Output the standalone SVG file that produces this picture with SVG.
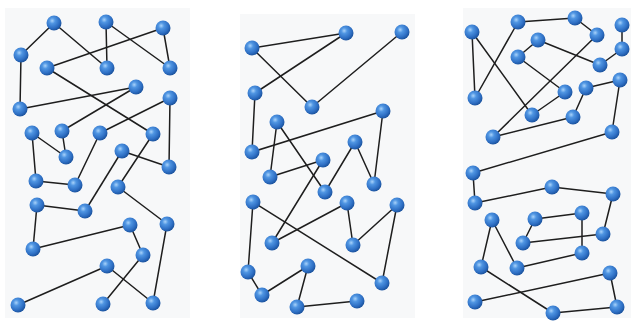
<svg xmlns="http://www.w3.org/2000/svg" width="631" height="322" viewBox="0 0 631 322">
<defs>
<radialGradient id="ball" cx="38%" cy="35%" r="65%">
<stop offset="0" stop-color="#a8d2fa"/>
<stop offset="0.3" stop-color="#4f95e2"/>
<stop offset="0.75" stop-color="#2e6fc4"/>
<stop offset="1" stop-color="#1d55a0"/>
</radialGradient>
</defs>
<style>
.bg{fill:#f7f8f9}
.e line{stroke:#1e1e1e;stroke-width:1.5;stroke-linecap:round}
.n circle{fill:url(#ball)}
</style>
<rect width="631" height="322" fill="#ffffff"/>
<rect class="bg" x="5" y="8" width="185" height="310"/>
<rect class="bg" x="240" y="14" width="175" height="304"/>
<rect class="bg" x="463" y="8" width="168" height="310"/>
<g id="connectors" class="e">
<line x1="54" y1="23" x2="21" y2="55"/>
<line x1="54" y1="23" x2="107" y2="68"/>
<line x1="106" y1="22" x2="107" y2="68"/>
<line x1="106" y1="22" x2="170" y2="68"/>
<line x1="163" y1="28" x2="170" y2="68"/>
<line x1="163" y1="28" x2="47" y2="68"/>
<line x1="21" y1="55" x2="20" y2="109"/>
<line x1="20" y1="109" x2="136" y2="87"/>
<line x1="47" y1="68" x2="153" y2="134"/>
<line x1="136" y1="87" x2="62" y2="131"/>
<line x1="170" y1="98" x2="100" y2="133"/>
<line x1="170" y1="98" x2="169" y2="167"/>
<line x1="32" y1="133" x2="66" y2="157"/>
<line x1="62" y1="131" x2="66" y2="157"/>
<line x1="32" y1="133" x2="36" y2="181"/>
<line x1="100" y1="133" x2="75" y2="185"/>
<line x1="122" y1="151" x2="169" y2="167"/>
<line x1="153" y1="134" x2="118" y2="187"/>
<line x1="122" y1="151" x2="85" y2="211"/>
<line x1="36" y1="181" x2="75" y2="185"/>
<line x1="37" y1="205" x2="85" y2="211"/>
<line x1="37" y1="205" x2="33" y2="249"/>
<line x1="33" y1="249" x2="130" y2="225"/>
<line x1="130" y1="225" x2="143" y2="255"/>
<line x1="118" y1="187" x2="167" y2="224"/>
<line x1="167" y1="224" x2="153" y2="303"/>
<line x1="143" y1="255" x2="103" y2="304"/>
<line x1="107" y1="266" x2="153" y2="303"/>
<line x1="107" y1="266" x2="18" y2="305"/>

<line x1="252" y1="48" x2="346" y2="33"/>
<line x1="346" y1="33" x2="255" y2="93"/>
<line x1="252" y1="48" x2="312" y2="107"/>
<line x1="402" y1="32" x2="312" y2="107"/>
<line x1="255" y1="93" x2="252" y2="152"/>
<line x1="252" y1="152" x2="383" y2="111"/>
<line x1="383" y1="111" x2="374" y2="184"/>
<line x1="277" y1="122" x2="325" y2="192"/>
<line x1="277" y1="122" x2="270" y2="177"/>
<line x1="270" y1="177" x2="323" y2="160"/>
<line x1="355" y1="142" x2="325" y2="192"/>
<line x1="355" y1="142" x2="374" y2="184"/>
<line x1="323" y1="160" x2="272" y2="243"/>
<line x1="253" y1="202" x2="382" y2="283"/>
<line x1="253" y1="202" x2="248" y2="272"/>
<line x1="272" y1="243" x2="347" y2="203"/>
<line x1="347" y1="203" x2="353" y2="245"/>
<line x1="353" y1="245" x2="397" y2="205"/>
<line x1="397" y1="205" x2="382" y2="283"/>
<line x1="248" y1="272" x2="262" y2="295"/>
<line x1="262" y1="295" x2="308" y2="266"/>
<line x1="308" y1="266" x2="297" y2="307"/>
<line x1="297" y1="307" x2="357" y2="301"/>

<line x1="472" y1="32" x2="475" y2="98"/>
<line x1="472" y1="32" x2="532" y2="115"/>
<line x1="518" y1="22" x2="475" y2="98"/>
<line x1="518" y1="22" x2="575" y2="18"/>
<line x1="575" y1="18" x2="597" y2="35"/>
<line x1="597" y1="35" x2="493" y2="137"/>
<line x1="622" y1="25" x2="622" y2="49"/>
<line x1="622" y1="49" x2="600" y2="65"/>
<line x1="538" y1="40" x2="518" y2="57"/>
<line x1="538" y1="40" x2="600" y2="65"/>
<line x1="518" y1="57" x2="565" y2="92"/>
<line x1="532" y1="115" x2="565" y2="92"/>
<line x1="586" y1="88" x2="620" y2="80"/>
<line x1="586" y1="88" x2="573" y2="117"/>
<line x1="573" y1="117" x2="493" y2="137"/>
<line x1="620" y1="80" x2="612" y2="132"/>
<line x1="612" y1="132" x2="473" y2="173"/>
<line x1="473" y1="173" x2="475" y2="203"/>
<line x1="475" y1="203" x2="552" y2="187"/>
<line x1="552" y1="187" x2="613" y2="194"/>
<line x1="613" y1="194" x2="603" y2="234"/>
<line x1="603" y1="234" x2="523" y2="243"/>
<line x1="523" y1="243" x2="535" y2="219"/>
<line x1="535" y1="219" x2="582" y2="213"/>
<line x1="582" y1="213" x2="582" y2="253"/>
<line x1="582" y1="253" x2="517" y2="268"/>
<line x1="517" y1="268" x2="492" y2="220"/>
<line x1="492" y1="220" x2="481" y2="267"/>
<line x1="481" y1="267" x2="553" y2="313"/>
<line x1="553" y1="313" x2="617" y2="307"/>
<line x1="617" y1="307" x2="610" y2="273"/>
<line x1="610" y1="273" x2="475" y2="302"/>
</g>
<g class="n">
<g id="a1"><circle cx="54" cy="23" r="7.5"/></g>
<g id="a2"><circle cx="106" cy="22" r="7.5"/></g>
<g id="a3"><circle cx="163" cy="28" r="7.5"/></g>
<g id="a4"><circle cx="21" cy="55" r="7.5"/></g>
<g id="a5"><circle cx="47" cy="68" r="7.5"/></g>
<g id="a6"><circle cx="107" cy="68" r="7.5"/></g>
<g id="a7"><circle cx="170" cy="68" r="7.5"/></g>
<g id="a8"><circle cx="136" cy="87" r="7.5"/></g>
<g id="a9"><circle cx="20" cy="109" r="7.5"/></g>
<g id="a10"><circle cx="170" cy="98" r="7.5"/></g>
<g id="a11"><circle cx="32" cy="133" r="7.5"/></g>
<g id="a12"><circle cx="62" cy="131" r="7.5"/></g>
<g id="a13"><circle cx="100" cy="133" r="7.5"/></g>
<g id="a14"><circle cx="153" cy="134" r="7.5"/></g>
<g id="a15"><circle cx="66" cy="157" r="7.5"/></g>
<g id="a16"><circle cx="122" cy="151" r="7.5"/></g>
<g id="a17"><circle cx="169" cy="167" r="7.5"/></g>
<g id="a18"><circle cx="36" cy="181" r="7.5"/></g>
<g id="a19"><circle cx="75" cy="185" r="7.5"/></g>
<g id="a20"><circle cx="118" cy="187" r="7.5"/></g>
<g id="a21"><circle cx="37" cy="205" r="7.5"/></g>
<g id="a22"><circle cx="85" cy="211" r="7.5"/></g>
<g id="a23"><circle cx="130" cy="225" r="7.5"/></g>
<g id="a24"><circle cx="167" cy="224" r="7.5"/></g>
<g id="a25"><circle cx="33" cy="249" r="7.5"/></g>
<g id="a26"><circle cx="143" cy="255" r="7.5"/></g>
<g id="a27"><circle cx="107" cy="266" r="7.5"/></g>
<g id="a28"><circle cx="18" cy="305" r="7.5"/></g>
<g id="a29"><circle cx="103" cy="304" r="7.5"/></g>
<g id="a30"><circle cx="153" cy="303" r="7.5"/></g>

<g id="b1"><circle cx="252" cy="48" r="7.5"/></g>
<g id="b2"><circle cx="346" cy="33" r="7.5"/></g>
<g id="b3"><circle cx="402" cy="32" r="7.5"/></g>
<g id="b4"><circle cx="255" cy="93" r="7.5"/></g>
<g id="b5"><circle cx="312" cy="107" r="7.5"/></g>
<g id="b6"><circle cx="383" cy="111" r="7.5"/></g>
<g id="b7"><circle cx="277" cy="122" r="7.5"/></g>
<g id="b8"><circle cx="252" cy="152" r="7.5"/></g>
<g id="b9"><circle cx="355" cy="142" r="7.5"/></g>
<g id="b10"><circle cx="323" cy="160" r="7.5"/></g>
<g id="b11"><circle cx="270" cy="177" r="7.5"/></g>
<g id="b12"><circle cx="325" cy="192" r="7.5"/></g>
<g id="b13"><circle cx="374" cy="184" r="7.5"/></g>
<g id="b14"><circle cx="253" cy="202" r="7.5"/></g>
<g id="b15"><circle cx="347" cy="203" r="7.5"/></g>
<g id="b16"><circle cx="397" cy="205" r="7.5"/></g>
<g id="b17"><circle cx="272" cy="243" r="7.5"/></g>
<g id="b18"><circle cx="353" cy="245" r="7.5"/></g>
<g id="b19"><circle cx="248" cy="272" r="7.5"/></g>
<g id="b20"><circle cx="308" cy="266" r="7.5"/></g>
<g id="b21"><circle cx="382" cy="283" r="7.5"/></g>
<g id="b22"><circle cx="262" cy="295" r="7.5"/></g>
<g id="b23"><circle cx="297" cy="307" r="7.5"/></g>
<g id="b24"><circle cx="357" cy="301" r="7.5"/></g>

<g id="c1"><circle cx="472" cy="32" r="7.5"/></g>
<g id="c2"><circle cx="518" cy="22" r="7.5"/></g>
<g id="c3"><circle cx="575" cy="18" r="7.5"/></g>
<g id="c4"><circle cx="597" cy="35" r="7.5"/></g>
<g id="c5"><circle cx="622" cy="25" r="7.5"/></g>
<g id="c6"><circle cx="538" cy="40" r="7.5"/></g>
<g id="c7"><circle cx="518" cy="57" r="7.5"/></g>
<g id="c8"><circle cx="622" cy="49" r="7.5"/></g>
<g id="c9"><circle cx="600" cy="65" r="7.5"/></g>
<g id="c10"><circle cx="475" cy="98" r="7.5"/></g>
<g id="c11"><circle cx="565" cy="92" r="7.5"/></g>
<g id="c12"><circle cx="586" cy="88" r="7.5"/></g>
<g id="c13"><circle cx="620" cy="80" r="7.5"/></g>
<g id="c14"><circle cx="532" cy="115" r="7.5"/></g>
<g id="c15"><circle cx="573" cy="117" r="7.5"/></g>
<g id="c16"><circle cx="493" cy="137" r="7.5"/></g>
<g id="c17"><circle cx="612" cy="132" r="7.5"/></g>
<g id="c18"><circle cx="473" cy="173" r="7.5"/></g>
<g id="c19"><circle cx="475" cy="203" r="7.5"/></g>
<g id="c20"><circle cx="552" cy="187" r="7.5"/></g>
<g id="c21"><circle cx="613" cy="194" r="7.5"/></g>
<g id="c22"><circle cx="492" cy="220" r="7.5"/></g>
<g id="c23"><circle cx="535" cy="219" r="7.5"/></g>
<g id="c24"><circle cx="582" cy="213" r="7.5"/></g>
<g id="c25"><circle cx="603" cy="234" r="7.5"/></g>
<g id="c26"><circle cx="523" cy="243" r="7.5"/></g>
<g id="c27"><circle cx="582" cy="253" r="7.5"/></g>
<g id="c28"><circle cx="481" cy="267" r="7.5"/></g>
<g id="c29"><circle cx="517" cy="268" r="7.5"/></g>
<g id="c30"><circle cx="610" cy="273" r="7.5"/></g>
<g id="c31"><circle cx="475" cy="302" r="7.5"/></g>
<g id="c32"><circle cx="553" cy="313" r="7.5"/></g>
<g id="c33"><circle cx="617" cy="307" r="7.5"/></g>
</g>
</svg>
